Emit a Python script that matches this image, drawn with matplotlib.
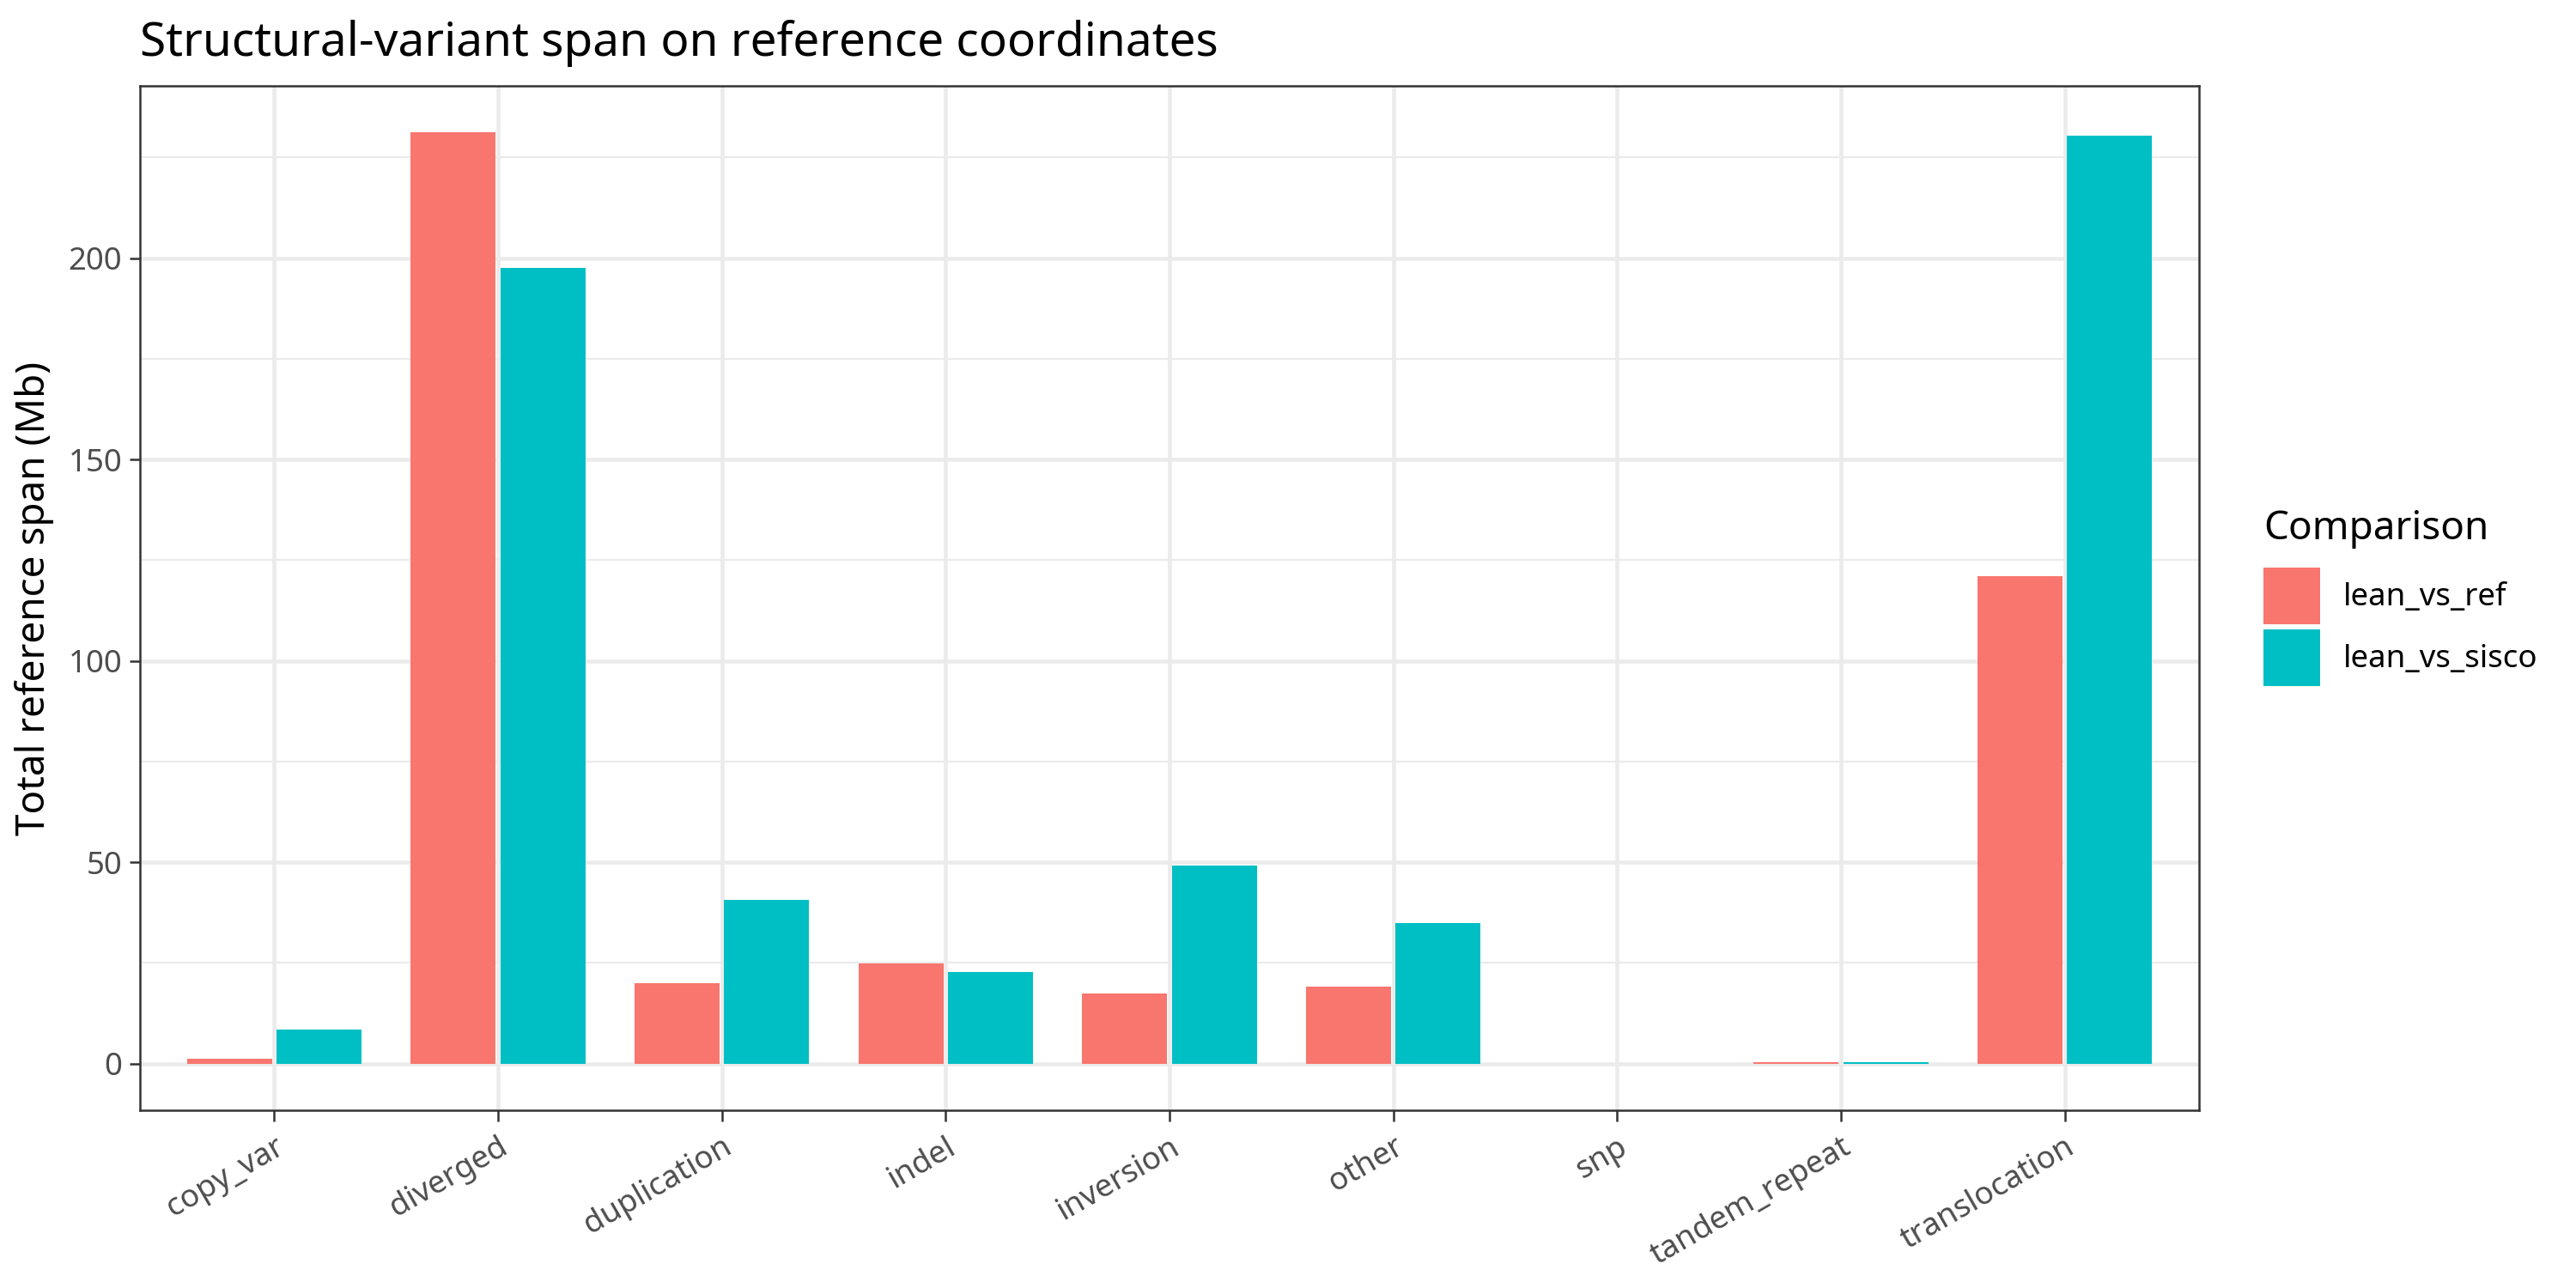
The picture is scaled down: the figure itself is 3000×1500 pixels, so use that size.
import numpy as np
import matplotlib.pyplot as plt
from matplotlib.patches import Patch

plt.rcParams['font.family'] = ['Noto Sans', 'DejaVu Sans']

categories = ["copy_var", "diverged", "duplication", "indel", "inversion",
              "other", "snp", "tandem_repeat", "translocation"]
comparisons = ["lean_vs_ref", "lean_vs_sisco"]
lean_vs_ref = [1.2, 231.2, 19.9, 24.8, 17.5, 19.1, 0.0, 0.3, 121.1]
lean_vs_sisco = [8.5, 197.6, 40.7, 22.8, 49.2, 35.0, 0.0, 0.3, 230.5]
colors = ["#F8766D", "#00BFC4"]

fig = plt.figure(figsize=(10, 5), dpi=300)
ax = fig.add_axes([163 / 3000, 1 - 1293 / 1500, (2561 - 163) / 3000, (1293 - 100) / 1500])

x = np.arange(len(categories))
for i, (vals, col) in enumerate(zip([lean_vs_ref, lean_vs_sisco], colors)):
    ax.bar(x + (i - 0.5) * 0.4, vals, width=0.38, color=col, zorder=3)

ymax = max(max(lean_vs_ref), max(lean_vs_sisco))
ax.set_ylim(-0.05 * ymax, 1.05 * ymax)
ax.set_xlim(-0.6, len(categories) - 0.4)

ax.set_yticks([0, 50, 100, 150, 200])
ax.set_yticks([25, 75, 125, 175, 225], minor=True)
ax.set_xticks(x)
ax.set_xticklabels(categories, rotation=30, ha="right", rotation_mode="anchor")

ax.grid(which="major", color="#EBEBEB", linewidth=1.1, zorder=0)
ax.grid(which="minor", axis="y", color="#EBEBEB", linewidth=0.55, zorder=0)
ax.set_axisbelow(True)
for s in ax.spines.values():
    s.set_color("#333333")
    s.set_linewidth(0.6)
ax.tick_params(which="major", length=3, width=0.6, color="#333333",
               labelcolor="#4D4D4D", labelsize=8.8, pad=2)
ax.tick_params(which="major", axis="x", pad=3)
ax.tick_params(which="minor", length=0)

ax.set_ylabel("Total reference span (Mb)", fontsize=11, labelpad=4)
fig.text(163 / 3000, 1 - 65 / 1500, "Structural-variant span on reference coordinates",
         fontsize=13.2, va="baseline", ha="left")

# legend: title drawn separately so the gap to the keys matches
fig.text(2636 / 3000, 1 - 628 / 1500, "Comparison", fontsize=11, va="baseline", ha="left")
handles = [Patch(facecolor=c, edgecolor="none", label=l) for c, l in zip(colors, comparisons)]
leg = fig.legend(handles=handles, loc="upper left",
                 bbox_to_anchor=(2636 / 3000, 1 - 661 / 1500), frameon=False,
                 fontsize=8.8, handlelength=1.8, handleheight=2.39,
                 handletextpad=0.73, labelspacing=0.16, borderaxespad=0, borderpad=0)

fig.savefig("out.png", dpi=300)
